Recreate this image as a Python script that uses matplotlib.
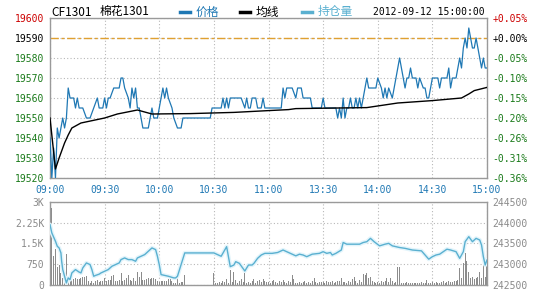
import matplotlib.pyplot as plt
from matplotlib.lines import Line2D

# 字体: 数字用等宽字体, 中文用 Noto Sans CJK SC
plt.rcParams['font.family'] = ['DejaVu Sans Mono', 'Noto Sans CJK SC']

# 横轴为交易分钟序号 (0 = 09:00, 240 = 15:00, 午休不计)
time_labels = ['09:00', '09:30', '10:00', '10:30', '11:00', '13:30', '14:00', '14:30', '15:00']

# 价格 (分钟, 价格)
price_min = [0, 1, 2, 3, 4, 5, 6, 7, 8, 9, 10, 11, 13, 14, 15, 16, 18, 20, 22, 24, 26, 27, 29,
             30, 31, 32, 33, 35, 38, 39, 40, 41, 43, 44, 45, 46, 47, 48, 49, 50, 51, 54, 55,
             56, 57, 59, 61, 62, 63, 64, 65, 67, 68, 70, 72, 73, 88, 89, 94, 95, 96, 97, 98,
             99, 105, 107, 108, 109, 110, 111, 113, 114, 116, 117, 118, 127, 128, 129, 130,
             133, 135, 136, 138, 139, 143, 144, 149, 150, 151, 157, 158, 159, 160, 161, 162,
             163, 164, 165, 166, 167, 168, 169, 170, 171, 172, 173, 174, 175, 179, 180, 182,
             183, 184, 185, 186, 188, 190, 191, 192, 193, 194, 195, 196, 197, 198, 199, 201,
             202, 203, 205, 206, 207, 208, 209, 210, 213, 214, 215, 218, 219, 220, 221, 223,
             224, 225, 226, 227, 228, 229, 230, 231, 232, 233, 234, 235, 236, 237, 238, 239, 240]
price_val = [19540, 19520, 19535, 19520, 19545, 19540, 19545, 19550, 19545, 19550, 19565, 19560,
             19560, 19555, 19560, 19555, 19555, 19550, 19550, 19555, 19560, 19555, 19555,
             19560, 19555, 19560, 19560, 19565, 19565, 19570, 19570, 19565, 19560, 19555,
             19565, 19560, 19565, 19555, 19555, 19550, 19545, 19545, 19550,
             19555, 19550, 19550, 19560, 19565, 19560, 19565, 19560, 19555, 19550, 19545,
             19545, 19550, 19550, 19555, 19555, 19560, 19555, 19560, 19555,
             19560, 19560, 19555, 19560, 19555, 19555, 19560, 19560, 19555, 19555, 19560,
             19555, 19555, 19565, 19560, 19565,
             19565, 19560, 19565, 19565, 19560, 19560, 19555, 19555, 19560, 19555, 19555,
             19550, 19555, 19550, 19560, 19550,
             19555, 19555, 19560, 19555, 19555, 19560, 19555, 19560, 19555, 19560, 19565,
             19570, 19565, 19565, 19570, 19565,
             19560, 19565, 19560, 19565, 19560, 19570, 19575, 19580, 19575, 19570, 19565,
             19570, 19570, 19575, 19570, 19570,
             19565, 19570, 19565, 19565, 19560, 19560, 19565, 19570, 19570, 19565, 19570,
             19570, 19575, 19565, 19570, 19570,
             19575, 19580, 19575, 19585, 19590, 19585, 19595, 19590, 19585, 19585, 19590,
             19585, 19580, 19575, 19580, 19575, 19575]

# 均线 (分钟, 均价)
avg_min = [0, 3, 5, 8, 10, 12, 17, 30, 37, 48, 56, 77, 101, 120, 131, 135, 158, 174, 191,
           210, 226, 230, 233, 240]
avg_val = [19550, 19524.5, 19530, 19537.5, 19541.5, 19545, 19547.5, 19550, 19552, 19554,
           19552, 19552.2, 19552.8, 19553.7, 19554.2, 19554.7, 19555, 19555.2, 19557.5,
           19558.7, 19560, 19562, 19563.7, 19565.3]

# 持仓量 (分钟, 手)
hold_min = [0, 1, 3, 4, 5, 6, 6.4, 7, 8, 9, 10, 11, 12, 14, 16, 17, 18, 20, 22, 23, 24, 25,
            27, 28, 30, 32, 34, 36, 38, 39, 41, 43, 45, 47, 48, 50, 52, 54, 56, 58, 59, 60,
            61, 65, 68, 69, 70, 72, 74, 90, 94, 97, 99, 101, 102, 104, 107, 109, 111, 112,
            114, 116, 118, 122, 125, 128, 131, 135, 137, 139, 141, 144, 148, 150, 152, 154,
            155, 157, 160, 161, 163, 170, 172, 174, 176, 178, 181, 184, 186, 188, 192, 195,
            199, 204, 206, 208, 210, 212, 214, 216, 218, 220, 223, 225, 227, 228, 230, 232,
            234, 236, 237, 238, 239, 240]
hold_val = [243950, 243750, 243550, 243430, 243390, 243270, 243070, 242870, 242710, 242550,
            242670, 242630, 242790, 242870, 242810, 242790, 242910, 243030, 242990, 242870,
            242710, 242730, 242760, 242790, 242830, 242870, 242950, 242990, 243030, 243110,
            243150, 243110, 243110, 243070, 243150, 243190, 243230, 243310, 243390, 243350,
            243190, 242990, 242750, 242710, 242670, 242670, 242710, 242990, 243270, 243270,
            243190, 243420, 242940, 242980, 243060, 243020, 242836, 242980, 242980, 243020,
            243140, 243220, 243260, 243260, 243280, 243340, 243280, 243200, 243240, 243220,
            243180, 243240, 243260, 243300, 243260, 243280, 243220, 243260, 243340, 243520,
            243480, 243480, 243520, 243540, 243620, 243540, 243440, 243480, 243500, 243440,
            243400, 243380, 243340, 243320, 243220, 243120, 243180, 243220, 243240, 243300,
            243360, 243340, 243300, 243140, 243300, 243540, 243660, 243540, 243620, 243580,
            243460, 243180, 242980, 243100]

# 每分钟成交量 (分钟 0..240)
volume = [2000, 2760, 1050, 1300, 660, 720, 420, 250, 200, 1100,
          200, 180, 250, 220, 250, 200, 200, 250, 280, 280,
          310, 130, 70, 130, 70, 130, 190, 110, 130, 160,
          250, 130, 190, 190, 310, 370, 130, 160, 190, 430,
          130, 190, 250, 350, 190, 130, 250, 130, 470, 280,
          470, 190, 190, 220, 250, 220, 250, 250, 220, 130,
          110, 130, 130, 130, 130, 220, 250, 130, 70, 90,
          370, 60, 110, 120, 370, 0, 0, 0, 0, 0,
          0, 0, 0, 0, 0, 0, 0, 0, 0, 0,
          430, 70, 90, 100, 70, 150, 100, 220, 80, 540,
          100, 480, 180, 90, 150, 220, 100, 480, 80, 120,
          70, 150, 210, 90, 130, 180, 100, 200, 160, 100,
          120, 80, 150, 180, 110, 90, 130, 100, 170, 120,
          90, 140, 110, 360, 200, 90, 60, 120, 80, 110,
          130, 70, 100, 90, 150, 240, 110, 80, 120, 100,
          110, 90, 130, 100, 120, 140, 90, 110, 130, 160,
          240, 100, 120, 90, 150, 110, 200, 300, 130, 90,
          180, 120, 380, 360, 420, 250, 300, 150, 120, 90,
          100, 80, 130, 110, 150, 240, 100, 240, 130, 90,
          100, 640, 640, 90, 60, 80, 100, 70, 90, 60,
          80, 70, 90, 60, 100, 80, 70, 180, 90, 60,
          100, 80, 120, 90, 70, 100, 130, 90, 110, 140,
          100, 120, 150, 130, 180, 600, 250, 780, 1140, 850,
          480, 250, 300, 200, 250, 300, 480, 250, 900, 300, 780]

price_ticks = [19600, 19590, 19580, 19570, 19560, 19550, 19540, 19530, 19520]
pct_labels = ['+0.05%', '+0.00%', '-0.05%', '-0.10%', '-0.15%', '-0.20%', '-0.26%', '-0.31%', '-0.36%']
vol_ticks = [0, 750, 1500, 2250, 3000]
vol_labels = ['0', '750', '1.5K', '2.25K', '3K']
hold_ticks = [242500, 243000, 243500, 244000, 244500]
prev_settle = 19590

RED = '#cc0000'
GREEN = '#1a7a1a'
BLUE = '#1f78b4'
LBLUE = '#5ab0d0'
FRAME = '#9a9a9a'

fig = plt.figure(figsize=(5.4, 3), dpi=100)
W, H = 540, 300


def box(l, t, r, b):
    return [l / W, 1 - b / H, (r - l) / W, (b - t) / H]


def style(ax):
    for s in ax.spines.values():
        s.set_color(FRAME)
        s.set_linewidth(1.0)
    ax.grid(True, color='#b8b8b8', linestyle=(0, (1, 2)), linewidth=0.8)
    ax.tick_params(length=0, labelsize=7)


# ---- 价格图 ----
ax = fig.add_axes(box(50, 18, 487, 178))
ax.plot(price_min, price_val, color=BLUE, lw=0.9, zorder=3)
ax.plot(avg_min, avg_val, color='black', lw=1.0, zorder=4)
ax.axhline(prev_settle, color='#e0a030', lw=1.0, linestyle=(0, (6, 2, 2, 2)), zorder=2)
ax.set_xlim(0, 240)
ax.set_ylim(19520, 19600)
ax.set_yticks(price_ticks)
ax.set_yticklabels([str(t) for t in price_ticks])
ax.set_xticks(range(0, 241, 30))
ax.set_xticklabels(time_labels, color=BLUE)
style(ax)
ax.tick_params(axis='x', pad=5)
ax.tick_params(axis='y', pad=4)
for lab, t in zip(ax.get_yticklabels(), price_ticks):
    lab.set_color(RED if t > prev_settle else ('black' if t == prev_settle else GREEN))

axr = ax.twinx()
axr.set_ylim(19520, 19600)
axr.set_yticks(price_ticks)
axr.set_yticklabels(pct_labels)
axr.tick_params(length=0, labelsize=7, pad=4)
for s in axr.spines.values():
    s.set_visible(False)
for lab, t in zip(axr.get_yticklabels(), price_ticks):
    lab.set_color(RED if t > prev_settle else ('black' if t == prev_settle else GREEN))

# ---- 成交量 / 持仓量 ----
ax2 = fig.add_axes(box(50, 201.7, 487, 285))
ax2.bar(range(len(volume)), volume, width=0.55, color='#8c8c8c', zorder=2)
ax2.set_xlim(0, 240)
ax2.set_ylim(0, 3000)
ax2.set_yticks(vol_ticks)
ax2.set_yticklabels(vol_labels, color='#8a8a8a')
ax2.set_xticks(range(0, 241, 30))
ax2.set_xticklabels([])
style(ax2)
ax2.tick_params(axis='y', pad=4)

ax3 = ax2.twinx()
ax3.plot(hold_min, hold_val, color='#e2f4fb', lw=3, solid_capstyle='round', zorder=2)
ax3.plot(hold_min, hold_val, color=LBLUE, lw=1.0, zorder=3)
ax3.set_ylim(242500, 244500)
ax3.set_yticks(hold_ticks)
ax3.set_yticklabels([str(t) for t in hold_ticks], color='#8a8a8a')
ax3.tick_params(length=0, labelsize=7, pad=4)
for s in ax3.spines.values():
    s.set_visible(False)

# ---- 顶部标题与图例 ----
cjk = ['Noto Sans CJK SC', 'DejaVu Sans']
fig.text(51 / W, 1 - 12 / H, 'CF1301', family=cjk, fontsize=8.5, va='center', ha='left')
fig.text(100 / W, 1 - 12 / H, '棉花1301', family=cjk, fontsize=8.5, va='center', ha='left')
for x0, c, name in [(180, BLUE, '价格'), (240, 'black', '均线'), (302, LBLUE, '持仓量')]:
    fig.add_artist(Line2D([x0 / W, (x0 + 10) / W], [1 - 12 / H, 1 - 12 / H],
                          transform=fig.transFigure, color=c, lw=2.5))
    fig.text((x0 + 16) / W, 1 - 12 / H, name, family=cjk, fontsize=8.5, va='center',
             ha='left', color=c)
fig.text(485 / W, 1 - 12 / H, '2012-09-12 15:00:00', fontsize=7, va='center', ha='right')

fig.savefig('out.png', dpi=100)
